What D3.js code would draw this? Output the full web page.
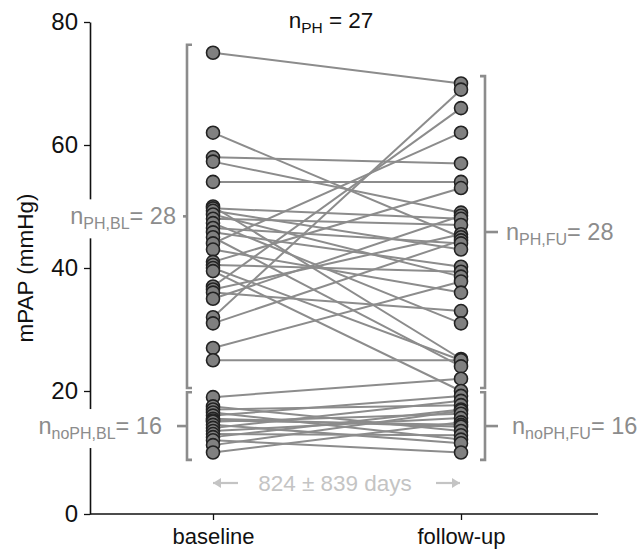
<!DOCTYPE html>
<html>
<head>
<meta charset="utf-8">
<script src="https://cdn.jsdelivr.net/npm/d3@7"></script>
<style>
  html, body { margin: 0; padding: 0; background: #fff; }
  svg { display: block; font-family: "Liberation Sans", Arial, sans-serif; }
</style>
</head>
<body>
<svg id="chart" width="641" height="553"></svg>
<script>
// ---- data ----
const categories = ["baseline", "follow-up"];
const baselineValues = [
  75, 62, 58, 57.3, 54, 50, 49.7, 49.3, 48.7, 48, 47.3, 46.5, 45.8, 45, 44, 43,
  41, 40.5, 40, 39.5, 37, 36.5, 36, 35, 32, 31, 27, 25,
  19, 17.5, 17, 16.5, 16, 15.5, 15.2, 15, 14.5, 14, 13.5, 13, 12.5, 12, 11.2, 10
];
const followupValues = [
  70, 45, 57, 49, 54, 25.2, 48, 43, 38.6, 47, 31, 44, 40.2, 24, 62, 36,
  53, 39.4, 25, 20, 66, 45.5, 33, 48.5, 69, 44.5, 37.8, 25,
  22, 13.5, 17.7, 12.1, 19.2, 14.2, 14.5, 16.3, 11.5, 18.4, 15.6, 12.8, 17, 10, 16.8, 14.9
];
const yTicks = [0, 20, 40, 60, 80];
const yTitle = "mPAP (mmHg)";
const nPH = 27;
const groupCounts = [28, 16, 28, 16];           // PH BL, noPH BL, PH FU, noPH FU
const groupSubs = ["PH,BL", "noPH,BL", "PH,FU", "noPH,FU"];
const phRangeBL = [20.5, 76.3];
const phRangeFU = [20.5, 71.2];
const noPhRange = [8.8, 19.8];
const daysLabel = "824 ± 839 days";

// ---- chart ----
const svg = d3.select("#chart");
const y = d3.scaleLinear().domain([0, 80]).range([514, 22]);
const x = d3.scalePoint().domain(categories).range([213, 461]);
const axisLeftX = 90, axisRightX = 598;

const grey = "#8c8c8c";

// y axis
const yAxis = svg.append("g")
  .attr("transform", `translate(${axisLeftX},0)`)
  .call(d3.axisLeft(y).tickValues(yTicks).tickSize(6).tickSizeOuter(0).tickPadding(6));
yAxis.select(".domain").attr("stroke", "#111").attr("stroke-width", 1.6);
yAxis.selectAll(".tick line").attr("stroke", "#111").attr("stroke-width", 1.3);
yAxis.selectAll(".tick text").attr("font-size", 24).attr("fill", "#111")
  .attr("font-family", "Liberation Sans, Arial, sans-serif");

// x axis
const xAxis = svg.append("g")
  .attr("transform", `translate(0,${y(0)})`)
  .call(d3.axisBottom(x).tickSize(6).tickSizeOuter(0).tickPadding(8));
xAxis.select(".domain").remove();
xAxis.append("line").attr("x1", axisLeftX).attr("x2", axisRightX)
  .attr("y1", 0).attr("y2", 0).attr("stroke", "#111").attr("stroke-width", 1.6);
xAxis.selectAll(".tick line").attr("stroke", "#111").attr("stroke-width", 1.3);
xAxis.selectAll(".tick text").attr("font-size", 22).attr("fill", "#111")
  .attr("font-family", "Liberation Sans, Arial, sans-serif");

// y title
svg.append("text")
  .attr("transform", `translate(27,${y(40)}) rotate(-90)`)
  .attr("text-anchor", "middle").attr("dominant-baseline", "middle")
  .attr("font-size", 22.5).attr("fill", "#111").text(yTitle);

// connecting lines
const pairs = baselineValues.map((b, i) => ({ b, f: followupValues[i] }));
svg.append("g").selectAll("line").data(pairs).join("line")
  .attr("x1", x(categories[0])).attr("x2", x(categories[1]))
  .attr("y1", d => y(d.b)).attr("y2", d => y(d.f))
  .attr("stroke", grey).attr("stroke-width", 2);

// points (higher values drawn first so lower overlap on top)
function drawPoints(vals, cat) {
  const sorted = vals.slice().sort((a, b) => b - a);
  svg.append("g").selectAll("circle").data(sorted).join("circle")
    .attr("cx", x(cat)).attr("cy", d => y(d)).attr("r", 6.5)
    .attr("fill", "#808080").attr("stroke", "#222").attr("stroke-width", 1.6);
}
drawPoints(baselineValues, categories[0]);
drawPoints(followupValues, categories[1]);

// braces
function brace(xv, range, dir, tickLen) {
  const y0 = y(range[1]), y1 = y(range[0]);
  const hook = 5 * dir;
  const path = `M${xv + hook},${y0} L${xv},${y0} L${xv},${y1} L${xv + hook},${y1}`;
  svg.append("path").attr("d", path).attr("fill", "none")
    .attr("stroke", grey).attr("stroke-width", 2.6);
  const ym = (y0 + y1) / 2;
  svg.append("line").attr("x1", xv).attr("x2", xv - dir * tickLen)
    .attr("y1", ym).attr("y2", ym).attr("stroke", grey).attr("stroke-width", 2.6);
  return ym;
}
const leftX = 187, rightX = 485;
const m1 = brace(leftX, phRangeBL, 1, 4);
const m2 = brace(leftX, noPhRange, 1, 10);
const m3 = brace(rightX, phRangeFU, -1, 13);
const m4 = brace(rightX, noPhRange, -1, 13);

function nLabel(xp, yp, sub, count, anchor, color, bg) {
  const t = svg.append("text").attr("x", xp).attr("y", yp)
    .attr("text-anchor", anchor).attr("fill", color).attr("font-size", 23.5);
  t.append("tspan").text("n");
  t.append("tspan").attr("font-size", 16).attr("dy", 5).text(sub);
  t.append("tspan").attr("dy", -5).text("= " + count);
  if (bg) {
    const bb = t.node().getBBox();
    svg.insert("rect", function () { return t.node(); })
      .attr("x", bb.x - 3).attr("y", bb.y - 4)
      .attr("width", bb.width + 6).attr("height", bb.height + 10)
      .attr("fill", "#fff");
  }
  return t;
}
nLabel(176, m1 + 8, groupSubs[0], groupCounts[0], "end", grey, true);
nLabel(162, m2 + 8, groupSubs[1], groupCounts[1], "end", grey, true);
nLabel(506, m3 + 8, groupSubs[2], groupCounts[2], "start", grey, false);
nLabel(512, m4 + 8, groupSubs[3], groupCounts[3], "start", grey, false);

// top label
const topLabel = svg.append("text").attr("x", 331).attr("y", 28)
  .attr("text-anchor", "middle").attr("fill", "#111").attr("font-size", 22.5);
topLabel.append("tspan").text("n");
topLabel.append("tspan").attr("font-size", 15.5).attr("dy", 5).text("PH");
topLabel.append("tspan").attr("dy", -5).text(" = " + nPH);

// days annotation
const dayY = 483;
const light = "#c4c4c4";
svg.append("text").attr("x", 335).attr("y", dayY + 8).attr("text-anchor", "middle")
  .attr("fill", light).attr("font-size", 22.5).text(daysLabel);
function arrow(xFrom, xTo) {
  svg.append("line").attr("x1", xFrom).attr("x2", xTo).attr("y1", dayY).attr("y2", dayY)
    .attr("stroke", light).attr("stroke-width", 2.2);
  const d = xTo > xFrom ? -1 : 1;
  svg.append("path")
    .attr("d", `M${xTo},${dayY} L${xTo + d * 8},${dayY - 5} L${xTo + d * 8},${dayY + 5} Z`)
    .attr("fill", light);
}
arrow(238, 213);
arrow(436, 460);
</script>
</body>
</html>
